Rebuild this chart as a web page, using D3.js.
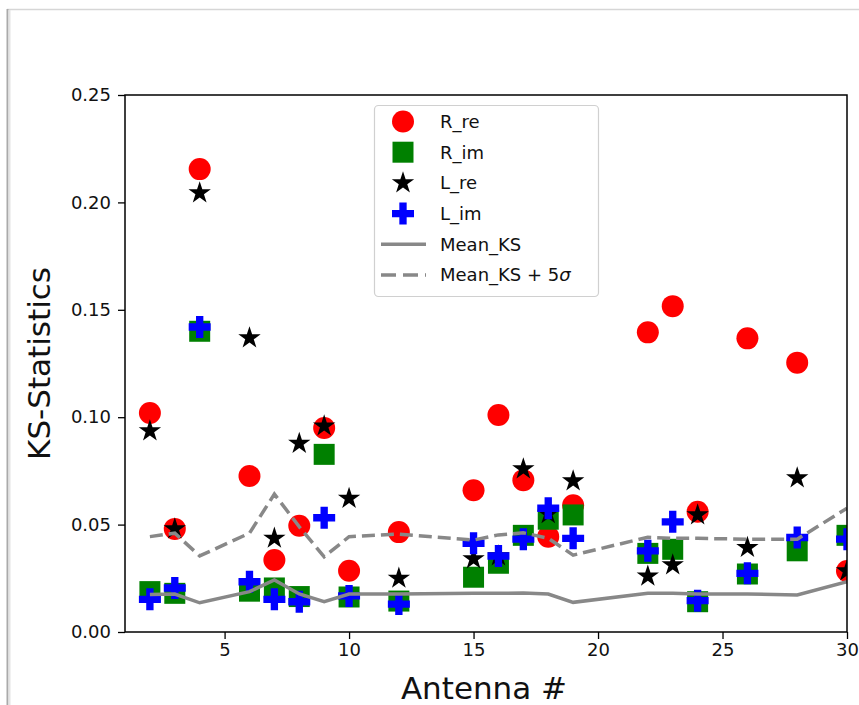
<!DOCTYPE html>
<html>
<head>
<meta charset="utf-8">
<script src="https://cdn.jsdelivr.net/npm/d3@7"></script>
<style>
  html, body { margin: 0; padding: 0; background: #fff; }
  svg { display: block; }
  text { font-family: "DejaVu Sans", sans-serif; fill: #111; }
</style>
</head>
<body>
<svg id="chart" width="859" height="705"></svg>
<script>
// ---- data ----
const antennas = [2, 3, 4, 6, 7, 8, 9, 10, 12, 15, 16, 17, 18, 19, 22, 23, 24, 26, 28, 30];
const R_re = [0.102, 0.048, 0.2155, 0.0726, 0.0335, 0.0495, 0.095, 0.0285, 0.0465, 0.066, 0.101, 0.0707, 0.0444, 0.059, 0.1395, 0.1517, 0.056, 0.1367, 0.1254, 0.0284];
const R_im = [0.0188, 0.018, 0.140, 0.019, 0.0205, 0.0165, 0.0827, 0.0163, 0.0144, 0.0255, 0.032, 0.045, 0.0525, 0.0545, 0.0366, 0.0385, 0.0141, 0.027, 0.0378, 0.045];
const L_re = [0.0936, 0.048, 0.2044, 0.1369, 0.0436, 0.0878, 0.0959, 0.0622, 0.025, 0.034, 0.0354, 0.0759, 0.055, 0.0703, 0.026, 0.0312, 0.0545, 0.0393, 0.0717, 0.0284];
const L_im = [0.0152, 0.0205, 0.142, 0.0234, 0.0152, 0.0141, 0.0532, 0.0168, 0.013, 0.0413, 0.0354, 0.0432, 0.0576, 0.0436, 0.0378, 0.0513, 0.0146, 0.0273, 0.044, 0.0432];
const meanKS = [0.0175, 0.0177, 0.0136, 0.0188, 0.0242, 0.0177, 0.0141, 0.0177, 0.0177, 0.018, 0.018, 0.0181, 0.0177, 0.0138, 0.018, 0.018, 0.0177, 0.0177, 0.0172, 0.0234];
const meanKS5 = [0.0444, 0.046, 0.0354, 0.046, 0.0642, 0.049, 0.035, 0.0444, 0.0456, 0.0428, 0.0452, 0.0462, 0.0436, 0.0358, 0.0441, 0.0436, 0.0436, 0.0432, 0.0432, 0.0576];
const xTicks = [5, 10, 15, 20, 25, 30];
const yTicks = [0, 0.05, 0.10, 0.15, 0.20, 0.25];
const legendLabels = ["R_re", "R_im", "L_re", "L_im", "Mean_KS", "Mean_KS + 5"];

// ---- layout ----
const svg = d3.select("#chart");
const W = 859, H = 705;
const pL = 125, pR = 847, pT = 95, pB = 632;

// screenshot frame
svg.append("rect").attr("x", 0).attr("y", 0).attr("width", W).attr("height", H).attr("fill", "#fff");
svg.append("line").attr("x1", 7).attr("x2", W).attr("y1", 9.5).attr("y2", 9.5).attr("stroke", "#d6d6d6").attr("stroke-width", 1.5);
svg.append("line").attr("x1", 7.5).attr("x2", 7.5).attr("y1", 9).attr("y2", H).attr("stroke", "#aaa").attr("stroke-width", 2);
svg.append("line").attr("x1", 9.5).attr("x2", 9.5).attr("y1", 10).attr("y2", H).attr("stroke", "#e4e4e4").attr("stroke-width", 2);

svg.append("defs").append("clipPath").attr("id", "plotclip").append("rect")
  .attr("x", pL).attr("y", pT).attr("width", pR - pL).attr("height", pB - pT);

const x = d3.scaleLinear().domain([1, 30]).range([pL, pR]);
const y = d3.scaleLinear().domain([0, 0.25]).range([pB, pT]);

// axes
const xAxis = svg.append("g").attr("transform", `translate(0,${pB})`)
  .call(d3.axisBottom(x).tickValues(xTicks).tickFormat(d3.format("d")).tickSizeOuter(0).tickSize(7).tickPadding(4));
const yAxis = svg.append("g").attr("transform", `translate(${pL},0)`)
  .call(d3.axisLeft(y).tickValues(yTicks).tickFormat(d3.format(".2f")).tickSizeOuter(0).tickSize(7).tickPadding(7));
[xAxis, yAxis].forEach(g => {
  g.select(".domain").remove();
  g.selectAll("line").attr("stroke", "#000").attr("stroke-width", 1.3);
  g.selectAll("text").style("font-family", "DejaVu Sans").style("font-size", "18px").attr("fill", "#111");
});

// markers
const plot = svg.append("g").attr("clip-path", "url(#plotclip)");
function scatter(vals, symType, size, color) {
  plot.append("g").selectAll("path").data(antennas.map((a, i) => [a, vals[i]])).join("path")
    .attr("transform", d => `translate(${x(d[0])},${y(d[1])})`)
    .attr("d", d3.symbol().type(symType).size(size))
    .attr("fill", color);
}
scatter(R_re, d3.symbolCircle, 380, "#ff0000");
scatter(R_im, d3.symbolSquare, 441, "#008000");
scatter(L_re, d3.symbolStar, 155, "#000000");
scatter(L_im, d3.symbolCross, 269, "#0000ff");

// lines
const lineGen = d3.line().x(d => x(d[0])).y(d => y(d[1]));
plot.append("path").datum(antennas.map((a, i) => [a, meanKS[i]]))
  .attr("d", lineGen).attr("fill", "none").attr("stroke", "#888").attr("stroke-width", 3.5);
plot.append("path").datum(antennas.map((a, i) => [a, meanKS5[i]]))
  .attr("d", lineGen).attr("fill", "none").attr("stroke", "#888").attr("stroke-width", 3.5)
  .attr("stroke-dasharray", "13,6");

// frame (spines)
svg.append("rect").attr("x", pL).attr("y", pT).attr("width", pR - pL).attr("height", pB - pT)
  .attr("fill", "none").attr("stroke", "#000").attr("stroke-width", 1.5);

// axis labels
svg.append("text").attr("x", (pL + pR) / 2 - 2).attr("y", 699).attr("text-anchor", "middle")
  .style("font-size", "31px").text("Antenna #");
svg.append("text").attr("transform", `translate(50,${(pT + pB) / 2}) rotate(-90)`).attr("text-anchor", "middle")
  .style("font-size", "31px").text("KS-Statistics");

// legend
const lg = svg.append("g");
lg.append("rect").attr("x", 374.5).attr("y", 105.5).attr("width", 224).attr("height", 191).attr("rx", 4)
  .attr("fill", "#fff").attr("fill-opacity", 0.8).attr("stroke", "#d0d0d0").attr("stroke-width", 1.2);
const rowY = i => 121.5 + i * 30.7;
const mx = 403;
const legSyms = [[d3.symbolCircle, 380, "#ff0000"], [d3.symbolSquare, 441, "#008000"], [d3.symbolStar, 155, "#000"], [d3.symbolCross, 269, "#0000ff"]];
legSyms.forEach((s, i) => {
  lg.append("path").attr("transform", `translate(${mx},${rowY(i)})`).attr("d", d3.symbol().type(s[0]).size(s[1])).attr("fill", s[2]);
});
lg.append("line").attr("x1", 381).attr("x2", 426).attr("y1", rowY(4)).attr("y2", rowY(4)).attr("stroke", "#888").attr("stroke-width", 3.5);
lg.append("line").attr("x1", 381).attr("x2", 426).attr("y1", rowY(5)).attr("y2", rowY(5)).attr("stroke", "#888").attr("stroke-width", 3.5).attr("stroke-dasharray", "15,7");
legendLabels.forEach((t, i) => {
  const tx = lg.append("text").attr("x", 440).attr("y", rowY(i)).attr("dy", "0.35em").style("font-size", "18px").text(t);
  if (i === 5) tx.append("tspan").style("font-style", "italic").text("σ");
});
</script>
</body>
</html>
